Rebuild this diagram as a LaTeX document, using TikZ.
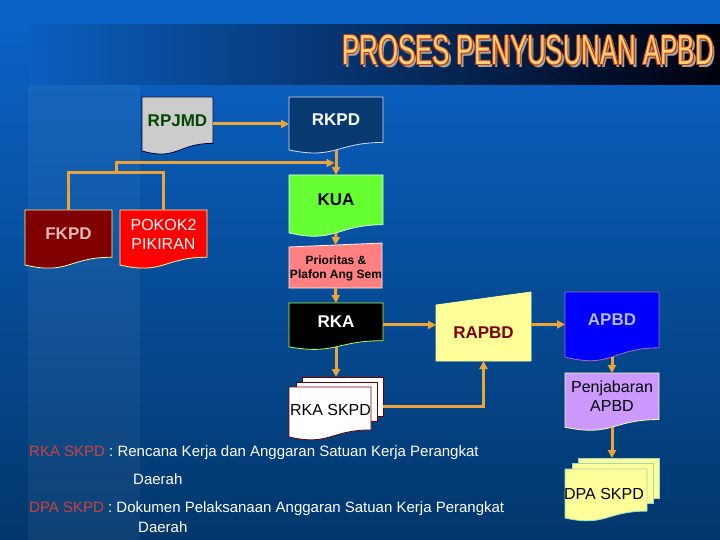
\documentclass[tikz,border=0pt]{standalone}
\usepackage{fontspec}
\usepackage{graphicx}
\setmainfont{Liberation Sans}
\usetikzlibrary{arrows.meta,calc}
\definecolor{bgtop}{HTML}{0B64C9}
\definecolor{bgbot}{HTML}{02376C}
\definecolor{connc}{HTML}{EBA43A}
\definecolor{titlefill}{HTML}{FFD27A}
\definecolor{titleline}{HTML}{C83C0A}
\definecolor{titleshadow}{HTML}{A6A6A6}
\definecolor{rkpdfill}{HTML}{083A72}
\definecolor{lightyel}{HTML}{FFFF99}
\definecolor{kuafill}{HTML}{66FF33}
\definecolor{priofill}{HTML}{FF8080}
\definecolor{penjfill}{HTML}{CC99FF}
\definecolor{labred}{HTML}{D04040}

\newcommand\docshape[5]{%
  \path[#5] (#1,#2) -- ({#1+#3},#2) -- ({#1+#3},{#2+0.802*#4})
    .. controls ({#1+0.5*#3},{#2+0.802*#4}) and ({#1+0.5*#3},{#2+1.107*#4}) ..
    (#1,{#2+0.934*#4}) -- cycle;}
\newcommand\titletxt{\fontsize{42}{42}\selectfont\scalebox{0.615}[1]{PROSES PENYUSUNAN APBD}}

\tikzset{
  lblb/.style={inner sep=0pt, font=\fontsize{17}{20}\selectfont\bfseries},
  lblr/.style={inner sep=0pt, font=\fontsize{16}{19}\selectfont, align=center},
  conn/.style={draw=connc, line width=3pt},
  arr/.style={conn, -{Triangle[length=8pt,width=8pt]}},
  shapebox/.style={inner sep=0pt, outer sep=0pt, draw=none, rectangle, anchor=north west},
  thinb/.style={line width=0.8pt},
  foot/.style={inner sep=0pt, anchor=base west, text=white, font=\fontsize{15}{18}\selectfont},
  titlen/.style={inner sep=0pt, anchor=base}
}
\begin{document}
\begin{tikzpicture}[x=1pt,y=-1pt]
\useasboundingbox (0,0) rectangle (720,540);
% background
\fill[top color=bgtop, bottom color=bgbot] (0,0) rectangle (720,540);
\fill[white, opacity=0.05] (28,85) rectangle (140,540);
\fill[left color=bgtop!95!black, middle color=bgtop!55!black, right color=black!95!blue] (30,25) rectangle (720,85);

% title
\node[titlen, text=titleshadow, name=title-sh] at (530.5,67.5) {\titletxt};
\foreach \dx/\dy [count=\i] in {-1/0,1/0,0/-1,0/1,-0.7/-0.7,0.7/-0.7,-0.7/0.7,0.7/0.7}
  \node[titlen, text=titleline, name=title-o\i] at ({528+\dx},{65+\dy}) {\titletxt};
\node[titlen, text=titlefill, name=title] at (528,65) {\titletxt};

% RPJMD
\docshape{142}{97}{71}{57.8}{fill=black!20, draw=black!80!blue, thinb}
\node[shapebox, minimum width=71pt, minimum height=53.9pt, name=rpjmd] at (142,97) {};
\node[lblb, text=black!60!green!70!black, name=rpjmd-t] at (177.5,120.5) {RPJMD};
% RKPD
\docshape{289}{97}{94}{56.7}{fill=rkpdfill, draw=white!85!blue, thinb}
\node[shapebox, minimum width=94pt, minimum height=52.9pt, name=rkpd] at (289,97) {};
\node[lblb, text=white, name=rkpd-t] at (336,120) {RKPD};
% FKPD
\docshape{25}{210}{87}{58.9}{fill=black!50!red, draw=lightyel, thinb}
\node[shapebox, minimum width=87pt, minimum height=55pt, name=fkpd] at (25,210) {};
\node[lblb, text=red!20!white!90!black, name=fkpd-t] at (68.5,234) {FKPD};
% POKOK2
\docshape{120}{210}{87}{58.9}{fill=red, draw=lightyel, thinb}
\node[shapebox, minimum width=87pt, minimum height=55pt, name=pokok] at (120,210) {};
\node[lblr, text=white, name=pokok-t] at (163.5,234) {POKOK2\\PIKIRAN};
% KUA
\docshape{289}{175}{94}{62}{fill=kuafill, draw=white!90!green, thinb}
\node[shapebox, minimum width=94pt, minimum height=57.8pt, name=kua] at (289,175) {};
\node[lblb, text=black, name=kua-t] at (336,200) {KUA};
% Prioritas
\path[fill=priofill, draw=white!80!pink, thinb] (289,247) -- (382,243) -- (382,288) -- (289,288) -- cycle;
\node[shapebox, minimum width=93pt, minimum height=43pt, name=prio] at (289,245) {};
\node[inner sep=0pt, align=center, font=\fontsize{12}{14.5}\selectfont\bfseries, name=prio-t] at (336,268.5) {Prioritas \&\\Plafon Ang Sem};
% RKA
\docshape{289}{303}{94}{47}{fill=black, draw=green!40!yellow!70!white, thinb}
\node[shapebox, minimum width=94pt, minimum height=43.9pt, name=rka] at (289,303) {};
\node[lblb, text=white, name=rka-t] at (336,322) {RKA};
% RKA SKPD (multi document)
\path[fill=white, draw=black!60!red, thinb] (302,377) rectangle (383,416);
\path[fill=white, draw=black!60!red, thinb] (296,382) rectangle (377,421);
\docshape{289}{387}{82}{53.5}{fill=white, draw=black!60!red, thinb}
\node[shapebox, minimum width=94pt, minimum height=58pt, name=rkaskpd] at (289,377) {};
\node[lblr, text=black, name=rkaskpd-t] at (330.5,410) {RKA SKPD};
% RAPBD
\path[fill=lightyel, draw=lightyel, thinb] (436,305) -- (531,292) -- (531,361) -- (436,361) -- cycle;
\node[shapebox, minimum width=95pt, minimum height=62.5pt, name=rapbd] at (436,298.5) {};
\node[lblb, text=black!50!red, name=rapbd-t] at (483.5,333) {RAPBD};
% APBD
\docshape{565}{292}{94}{69.6}{fill=blue, draw=violet!60!white, thinb}
\node[shapebox, minimum width=94pt, minimum height=64.9pt, name=apbd] at (565,292) {};
\node[lblb, text=blue!20!white!90!black, name=apbd-t] at (612,320) {APBD};
% Penjabaran APBD
\docshape{565}{373}{94}{58}{fill=penjfill, draw=yellow!30!white, thinb}
\node[shapebox, minimum width=94pt, minimum height=54.1pt, name=penj] at (565,373) {};
\node[lblr, text=black, name=penj-t] at (612,396) {Penjabaran\\APBD};
% DPA SKPD
\path[fill=lightyel, draw=cyan!30!green!40!white, thinb] (578,458) rectangle (659,498);
\path[fill=lightyel, draw=cyan!30!green!40!white, thinb] (572,463) rectangle (653,503);
\docshape{565}{469}{82}{52.5}{fill=lightyel, draw=cyan!30!green!40!white, thinb}
\node[shapebox, minimum width=94pt, minimum height=58pt, name=dpa] at (565,458) {};
\node[lblr, text=black, name=dpa-t] at (604,494) {DPA SKPD};

% connectors
\draw[arr] (rpjmd.east) -- (rpjmd.east -| rkpd.west);
\draw[arr] (rkpd.south) -- (kua.north);
\coordinate (jh) at (116,173);
\coordinate (jt) at (116,163);
\draw[conn] (fkpd.north) -- (fkpd.north |- jh) -- (pokok.north |- jh) -- (pokok.north);
\draw[arr, shorten >=1.5pt] (jh) -- (jt) -- (jt -| kua.north);
\draw[arr] (kua.south) -- (prio.north);
\draw[arr] (prio.south) -- (rka.north);
\draw[arr] (rka.south) -- (rkaskpd.north);
\draw[arr] (rka.east) -- (rka.east -| rapbd.west);
\draw[arr] (383,406) -| (rapbd.south);
\draw[arr] (rapbd.east |- apbd.west) -- (apbd.west);
\draw[arr] (apbd.south) -- (penj.north);
\draw[arr] (penj.south) -- (dpa.north);

% footnotes
\node[foot, name=f1] at (29,456.5) {\textcolor{labred}{RKA SKPD} : Rencana Kerja dan Anggaran Satuan Kerja Perangkat};
\node[foot, name=f2] at (133,484.5) {Daerah};
\node[foot, name=f3] at (29,512.5) {\textcolor{labred}{DPA SKPD} : Dokumen Pelaksanaan Anggaran Satuan Kerja Perangkat};
\node[foot, name=f4] at (138,532.5) {Daerah};
\end{tikzpicture}
\end{document}
